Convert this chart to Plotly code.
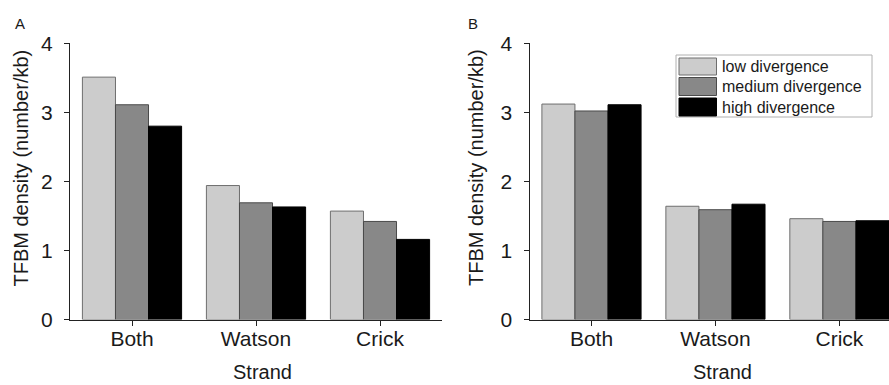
import plotly.graph_objects as go

# ---- data ----
categories = ["Both", "Watson", "Crick"]
series_names = ["low divergence", "medium divergence", "high divergence"]
panel_a_low = [3.51, 1.94, 1.57]
panel_a_medium = [3.11, 1.69, 1.42]
panel_a_high = [2.80, 1.63, 1.16]
panel_b_low = [3.12, 1.64, 1.46]
panel_b_medium = [3.02, 1.59, 1.42]
panel_b_high = [3.11, 1.67, 1.43]
y_ticks = [0, 1, 2, 3, 4]

W, H = 889, 385
FONT = "Liberation Sans, Arial, sans-serif"
TXT = "#1a1a1a"
fills = ["#cccccc", "#888888", "#000000"]
edges = ["#6e6e6e", "#4a4a4a", "#000000"]

def px(x):
    return x / W

def py(y):
    return 1 - y / H

fig = go.Figure()
panel_a = [panel_a_low, panel_a_medium, panel_a_high]
panel_b = [panel_b_low, panel_b_medium, panel_b_high]
for i in range(3):
    fig.add_trace(go.Bar(x=categories, y=panel_a[i], name=series_names[i],
                         marker=dict(color=fills[i], line=dict(color=edges[i], width=1)),
                         xaxis="x", yaxis="y", showlegend=False))
for i in range(3):
    fig.add_trace(go.Bar(x=categories, y=panel_b[i], name=series_names[i],
                         marker=dict(color=fills[i], line=dict(color=edges[i], width=1)),
                         xaxis="x2", yaxis="y2", showlegend=False))

axis_common = dict(showline=True, linecolor="#222", linewidth=1, ticks="outside",
                   ticklen=5, tickcolor="#222", showgrid=False, zeroline=False, automargin=False,
                   tickfont=dict(family=FONT, size=21, color=TXT))
ydom = [py(319.5), py(43.3)]
fig.update_layout(
    width=W, height=H,
    margin=dict(l=0, r=0, t=0, b=0, pad=0),
    paper_bgcolor="white", plot_bgcolor="white",
    barmode="group", bargap=0.2, bargroupgap=0,
    xaxis=dict(domain=[px(70), px(442)], range=[-0.5, 2.5], anchor="y", ticklabelstandoff=-5, **axis_common),
    yaxis=dict(domain=ydom, range=[0, 4], tickvals=y_ticks, anchor="x", ticklabelstandoff=7, **axis_common),
    xaxis2=dict(domain=[px(529.5), 1.0], range=[-0.5, 2.4], anchor="y2", ticklabelstandoff=-5, **axis_common),
    yaxis2=dict(domain=ydom, range=[0, 4], tickvals=y_ticks, anchor="x2", ticklabelstandoff=7, **axis_common),
)

ann = []
def add_text(text, x, y, size, angle=0, xanchor="center"):
    ann.append(dict(text=text, x=px(x), y=py(y), xref="paper", yref="paper", showarrow=False,
                    xanchor=xanchor, yanchor="middle", textangle=angle, borderpad=0,
                    font=dict(family=FONT, size=size, color=TXT)))

# panel letters
add_text("A", 20, 23, 15)
add_text("B", 473, 23, 15)
# y titles
for xc in (20.5, 476):
    add_text("TFBM density (number/kb)", xc, 168, 20, angle=-90)
# x titles
for xc in (262.5, 722.5):
    add_text("Strand", xc, 372, 20)

# legend (drawn in panel B)
shapes = []
shapes.append(dict(type="rect", xref="paper", yref="paper", x0=px(676), x1=px(872), y0=py(55), y1=py(117),
                   line=dict(color="#b0b0b0", width=1), fillcolor="white", layer="above"))
rows = [(58, 75), (77.5, 95.5), (98, 116)]
for i, (t, b) in enumerate(rows):
    shapes.append(dict(type="rect", xref="paper", yref="paper", x0=px(679), x1=px(716.5), y0=py(t), y1=py(b),
                       line=dict(color=edges[i], width=1), fillcolor=fills[i], layer="above"))
    add_text(series_names[i], 721, (t + b) / 2, 16, xanchor="left")

fig.update_layout(annotations=ann, shapes=shapes)
fig.write_html("out.html")
